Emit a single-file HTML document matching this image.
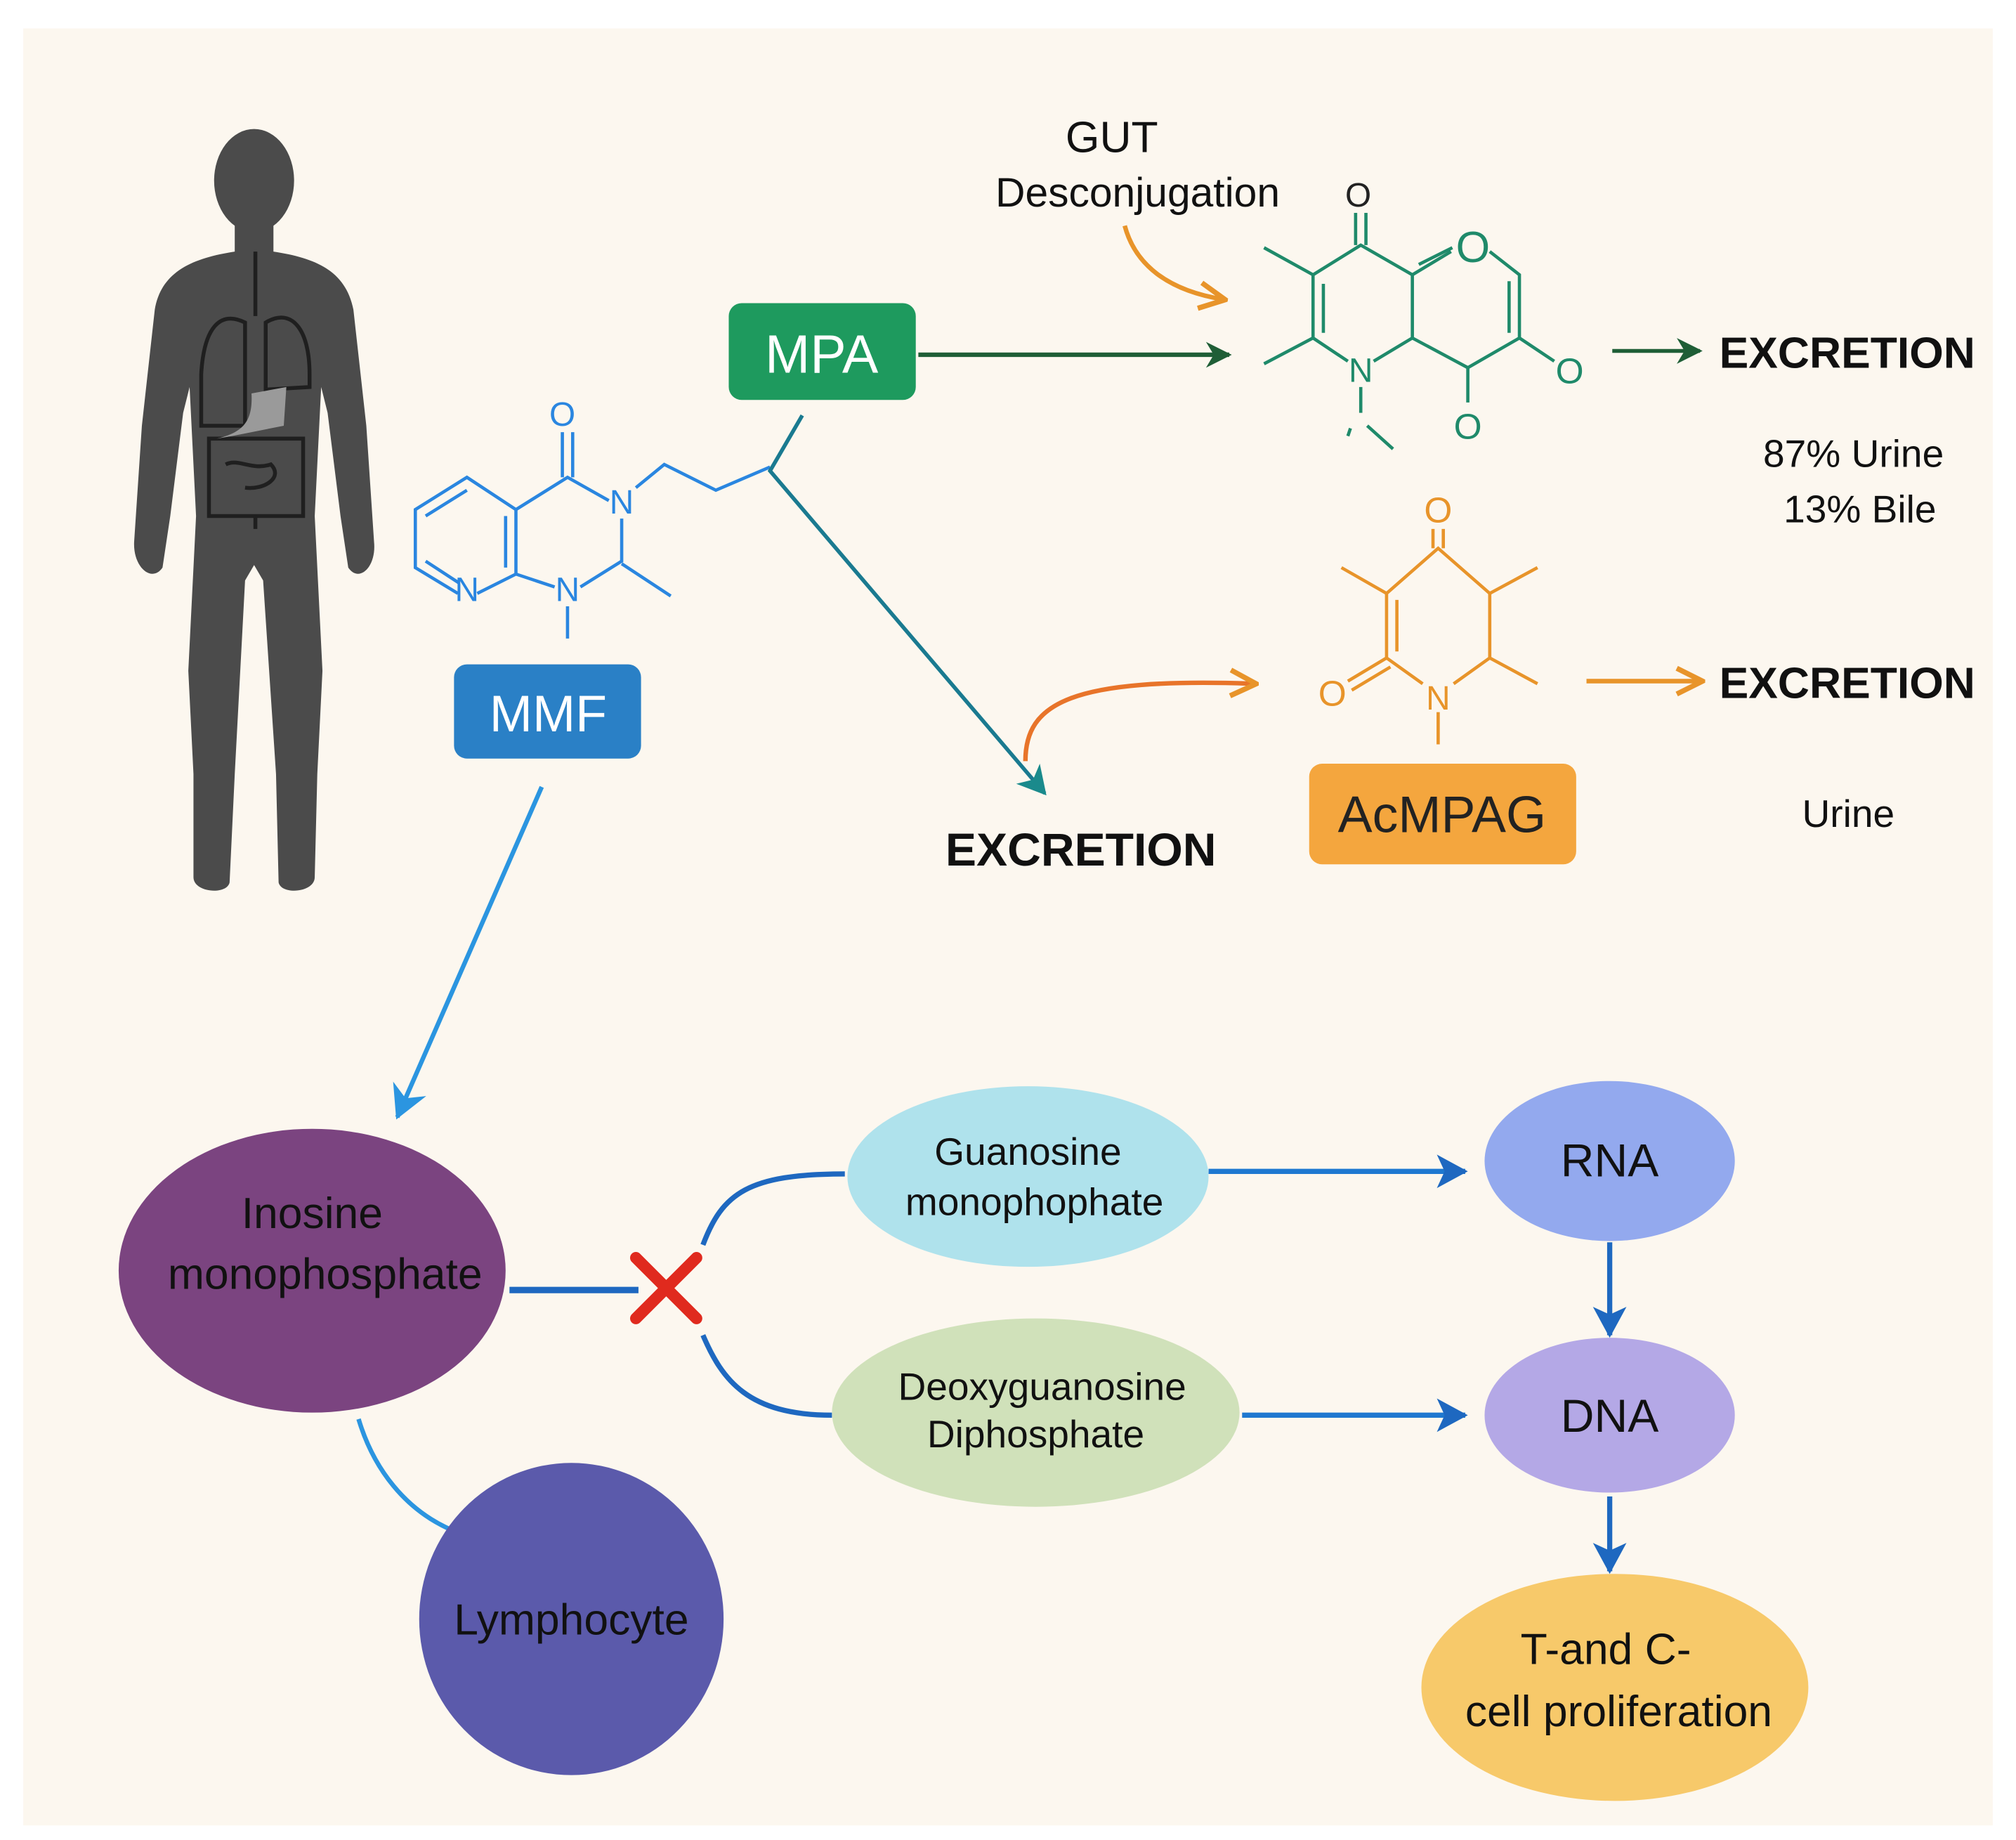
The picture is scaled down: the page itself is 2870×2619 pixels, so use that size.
<!DOCTYPE html>
<html><head><meta charset="utf-8">
<style>
html,body{margin:0;padding:0;background:#fff;}
svg{display:block;}
text{font-family:"Liberation Sans","DejaVu Sans",sans-serif;}
</style></head>
<body>
<svg width="2870" height="2619" viewBox="0 0 1563 1426.3" preserveAspectRatio="none" xmlns="http://www.w3.org/2000/svg">
<defs>
<marker id="aO" markerWidth="24" markerHeight="24" refX="20" refY="12" orient="auto" markerUnits="userSpaceOnUse"><path d="M2,2 L22,12 L2,22" fill="none" stroke="#e8942a" stroke-width="4"/></marker>
<marker id="aDG" markerWidth="24" markerHeight="24" refX="20" refY="12" orient="auto" markerUnits="userSpaceOnUse"><path d="M2,2 L22,12 L2,22 L8,12 Z" fill="#1f5e36"/></marker>
<marker id="aT" markerWidth="28" markerHeight="28" refX="22" refY="14" orient="auto" markerUnits="userSpaceOnUse"><path d="M2,2 L24,14 L2,26 L8,14 Z" fill="#1a8a8c"/></marker>
<marker id="aB" markerWidth="32" markerHeight="32" refX="26" refY="16" orient="auto" markerUnits="userSpaceOnUse"><path d="M2,2 L28,16 L2,30 L10,16 Z" fill="#2b95e0"/></marker>
<marker id="aD" markerWidth="30" markerHeight="30" refX="24" refY="15" orient="auto" markerUnits="userSpaceOnUse"><path d="M2,2 L26,15 L2,28 L8,15 Z" fill="#1e68c0"/></marker>
</defs>
<rect x="0" y="0" width="1563" height="1426.3" fill="#ffffff"/>
<rect x="18" y="22" width="1527" height="1393" fill="#fcf7ef"/>

<!-- human -->
<g fill="#4b4b4b">
<ellipse cx="197" cy="140" rx="31" ry="40"/>
<path d="M182,172 L182,195 C150,200 125,210 120,240 L110,330 L104,420 C103,440 118,452 126,440 L132,400 L142,320 L147,300 L152,400 L146,520 L150,600 L150,680 C150,692 176,694 178,684 L182,600 L190,450 L197,438 L204,450 L214,600 L216,684 C218,694 244,692 244,680 L246,600 L250,520 L244,400 L249,300 L254,320 L264,400 L270,440 C278,452 292,440 290,420 L284,330 L274,240 C268,210 245,200 212,195 L212,172 Z"/>
</g>
<g fill="none" stroke="#1f1f1f" stroke-width="3">
<path d="M198,195 L198,245"/>
<path d="M190,250 C170,240 158,255 156,290 L156,330 L190,330 Z"/>
<path d="M206,250 C226,238 240,255 240,290 L240,300 L206,302 Z"/>
<path d="M162,340 L235,340 L235,400 L162,400 Z"/>
<path d="M175,360 C185,355 195,365 210,360 C220,370 205,380 190,378 M198,400 L198,410"/>
</g>
<path d="M195,305 L222,300 L220,330 L180,338 L168,340 C190,335 196,325 195,305Z" fill="#9a9a9a"/>

<!-- MMF molecule -->
<g fill="none" stroke="#2a86e0" stroke-width="2.5">
<path d="M355,460 L322,440 L322,395 L362,370 L400,395 L400,445 L370,460"/>
<path d="M330,400 L362,380 M392,400 L392,440 M330,435 L356,452"/>
<path d="M400,395 L440,370 L472,388 M482,402 L482,435 L450,455 M430,455 L400,445"/>
<path d="M436,370 L436,335 M444,370 L444,335"/>
<path d="M493,378 L515,360 L555,380 L597,362"/>
<path d="M482,437 L520,462"/>
<path d="M440,470 L440,495"/>
</g>
<g fill="#2a86e0" font-size="26" text-anchor="middle">
<text x="436" y="330">O</text>
<text x="482" y="398">N</text>
<text x="362" y="466">N</text>
<text x="440" y="466">N</text>
</g>

<!-- MPA box -->
<rect x="565" y="235" width="145" height="75" rx="10" fill="#1e9a5e"/>
<text x="637" y="289" font-size="42" fill="#fff" text-anchor="middle">MPA</text>
<!-- MMF box -->
<rect x="352" y="515" width="145" height="73" rx="10" fill="#2a80c6"/>
<text x="425" y="567" font-size="40" fill="#fff" text-anchor="middle">MMF</text>

<line x1="712" y1="275" x2="953" y2="275" stroke="#1f5e36" stroke-width="3.5" marker-end="url(#aDG)"/>
<path d="M622,322 L597,365 L810,615" fill="none" stroke="#1a7a90" stroke-width="3" marker-end="url(#aT)"/>

<text x="862" y="118" font-size="34" fill="#111" text-anchor="middle">GUT</text>
<text x="882" y="160" font-size="32" fill="#111" text-anchor="middle">Desconjugation</text>
<path d="M872,175 C880,205 905,225 948,232" fill="none" stroke="#e8942a" stroke-width="3.5" marker-end="url(#aO)"/>

<!-- green molecule -->
<g fill="none" stroke="#1f8a6a" stroke-width="2.5">
<path d="M1065,280 L1095,262 L1095,213 L1055,190 L1018,213 L1018,262 L1045,280"/>
<path d="M1026,220 L1026,258"/>
<path d="M1095,213 L1125,195 M1155,195 L1178,213 L1178,262 L1138,285 L1095,262"/>
<path d="M1100,205 L1126,192 M1170,218 L1170,258"/>
<path d="M1051,190 L1051,165 M1059,190 L1059,165"/>
<path d="M1018,213 L980,192 M1018,262 L980,282"/>
<path d="M1055,300 L1055,320 M1047,332 L1045,338 M1060,330 L1080,348"/>
<path d="M1178,262 L1205,280"/>
<path d="M1138,285 L1138,312"/>
</g>
<g fill="#1f8a6a" font-size="28" text-anchor="middle">
<text x="1053" y="160" font-size="26" fill="#222">O</text>
<text x="1142" y="203" font-size="34">O</text>
<text x="1055" y="296" font-size="26">N</text>
<text x="1217" y="297">O</text>
<text x="1138" y="340">O</text>
</g>
<line x1="1250" y1="272" x2="1318" y2="272" stroke="#1f5e36" stroke-width="3" marker-end="url(#aDG)"/>
<text x="1333" y="285" font-size="34" font-weight="bold" fill="#111">EXCRETION</text>
<text x="1437" y="362" font-size="30" fill="#111" text-anchor="middle">87% Urine</text>
<text x="1442" y="405" font-size="30" fill="#111" text-anchor="middle">13% Bile</text>

<!-- orange molecule -->
<g fill="none" stroke="#e8942a" stroke-width="2.5">
<path d="M1103,530 L1075,510 L1075,460 L1115,425 L1155,460 L1155,510 L1127,530"/>
<path d="M1083,465 L1083,505"/>
<path d="M1111,425 L1111,410 M1119,425 L1119,410"/>
<path d="M1075,460 L1040,440 M1155,460 L1192,440 M1155,510 L1192,530"/>
<path d="M1075,510 L1045,528 M1078,517 L1048,535"/>
<path d="M1115,552 L1115,577"/>
</g>
<g fill="#e8942a" font-size="28" text-anchor="middle">
<text x="1115" y="405">O</text>
<text x="1033" y="547">O</text>
<text x="1115" y="550" font-size="26">N</text>
</g>
<path d="M795,590 C795,545 830,525 972,530" fill="none" stroke="#e8742a" stroke-width="3.5" marker-end="url(#aO)"/>
<line x1="1230" y1="528" x2="1318" y2="528" stroke="#e8942a" stroke-width="3.5" marker-end="url(#aO)"/>
<text x="1333" y="541" font-size="34" font-weight="bold" fill="#111">EXCRETION</text>

<text x="838" y="671" font-size="36" font-weight="bold" fill="#111" text-anchor="middle">EXCRETION</text>
<rect x="1015" y="592" width="207" height="78" rx="10" fill="#f4a63e"/>
<text x="1118" y="645" font-size="40" fill="#222" text-anchor="middle">AcMPAG</text>
<text x="1433" y="641" font-size="30" fill="#111" text-anchor="middle">Urine</text>

<line x1="420" y1="610" x2="308" y2="866" stroke="#2b95e0" stroke-width="3.5" marker-end="url(#aB)"/>

<path d="M278,1100 C290,1140 315,1170 348,1185" fill="none" stroke="#2b95e0" stroke-width="3.5"/>
<ellipse cx="242" cy="985" rx="150" ry="110" fill="#7b4480"/>
<text x="242" y="952" font-size="34" fill="#111" text-anchor="middle">Inosine</text>
<text x="252" y="999" font-size="34" fill="#111" text-anchor="middle">monophosphate</text>

<line x1="395" y1="1000" x2="495" y2="1000" stroke="#1e68c0" stroke-width="5"/>
<path d="M545,965 C560,925 580,910 655,910" fill="none" stroke="#1e68c0" stroke-width="4"/>
<path d="M545,1035 C560,1070 580,1097 645,1097" fill="none" stroke="#1e68c0" stroke-width="4"/>
<path d="M493,975 L540,1022 M540,975 L493,1022" stroke="#e02a1e" stroke-width="9" stroke-linecap="round"/>

<ellipse cx="797" cy="912" rx="140" ry="70" fill="#afe2ec"/>
<text x="797" y="903" font-size="30" fill="#111" text-anchor="middle">Guanosine</text>
<text x="802" y="942" font-size="30" fill="#111" text-anchor="middle">monophophate</text>
<ellipse cx="803" cy="1095" rx="158" ry="73" fill="#d0e1ba"/>
<text x="808" y="1085" font-size="30" fill="#111" text-anchor="middle">Deoxyguanosine</text>
<text x="803" y="1122" font-size="30" fill="#111" text-anchor="middle">Diphosphate</text>

<line x1="937" y1="908" x2="1136" y2="908" stroke="#1e78d0" stroke-width="4" marker-end="url(#aD)"/>
<line x1="963" y1="1097" x2="1136" y2="1097" stroke="#1e78d0" stroke-width="4" marker-end="url(#aD)"/>

<ellipse cx="1248" cy="900" rx="97" ry="62" fill="#93a9ee"/>
<text x="1248" y="912" font-size="36" fill="#111" text-anchor="middle">RNA</text>
<ellipse cx="1248" cy="1097" rx="97" ry="60" fill="#b4a8e6"/>
<text x="1248" y="1110" font-size="36" fill="#111" text-anchor="middle">DNA</text>
<line x1="1248" y1="963" x2="1248" y2="1035" stroke="#1e68c0" stroke-width="4" marker-end="url(#aD)"/>
<line x1="1248" y1="1160" x2="1248" y2="1218" stroke="#1e68c0" stroke-width="4" marker-end="url(#aD)"/>

<ellipse cx="1252" cy="1308" rx="150" ry="88" fill="#f7c96a"/>
<text x="1245" y="1290" font-size="34" fill="#111" text-anchor="middle">T-and C-</text>
<text x="1255" y="1338" font-size="34" fill="#111" text-anchor="middle">cell proliferation</text>

<ellipse cx="443" cy="1255" rx="118" ry="121" fill="#5b5aab"/>
<text x="443" y="1267" font-size="34" fill="#111" text-anchor="middle">Lymphocyte</text>
</svg>
</body></html>
